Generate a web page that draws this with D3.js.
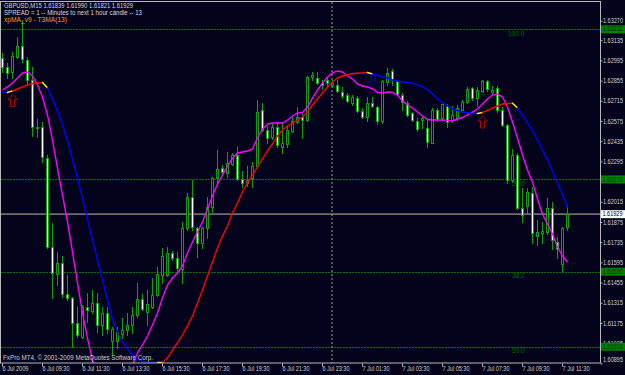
<!DOCTYPE html>
<html><head><meta charset="utf-8">
<script src="https://cdn.jsdelivr.net/npm/d3@7/dist/d3.min.js"></script>
<style>html,body{margin:0;padding:0;background:#03031b;overflow:hidden}</style>
</head><body><script>
const openP=[1.63012,1.62949,1.62915,1.63019,1.63095,1.62998,1.62859,1.62526,1.62533,1.62318,
1.61701,1.61514,1.61590,1.61375,1.61348,1.61174,1.61077,1.61285,1.61258,1.61313,
1.61160,1.61244,1.61050,1.61050,1.61098,1.61126,1.61160,1.61230,1.61341,1.61251,
1.61285,1.61369,1.61507,1.61507,1.61660,1.61625,1.61549,1.61833,1.62048,1.61833,
1.61729,1.61833,1.61979,1.62180,1.62249,1.62214,1.62277,1.62339,1.62173,1.62145,
1.62180,1.62263,1.62651,1.62513,1.62464,1.62533,1.62395,1.62416,1.62506,1.62568,
1.62603,1.62582,1.62880,1.62873,1.62838,1.62859,1.62825,1.62825,1.62776,1.62755,
1.62700,1.62734,1.62644,1.62603,1.62700,1.62672,1.62575,1.62845,1.62922,1.62852,
1.62755,1.62700,1.62631,1.62575,1.62582,1.62526,1.62422,1.62651,1.62596,1.62679,
1.62582,1.62596,1.62651,1.62707,1.62804,1.62734,1.62783,1.62852,1.62776,1.62804,
1.62651,1.62547,1.62166,1.62339,1.61972,1.61986,1.62076,1.61778,1.61798,1.61805,
1.61972,1.61736,1.61583,1.61839];
const highP=[1.63046,1.62977,1.63053,1.63157,1.63275,1.63019,1.62949,1.62589,1.62568,1.62339,
1.61868,1.61667,1.61639,1.61507,1.61355,1.61285,1.61299,1.61382,1.61403,1.61382,
1.61285,1.61285,1.61147,1.61147,1.61209,1.61244,1.61285,1.61452,1.61375,1.61403,
1.61486,1.61563,1.61694,1.61701,1.61674,1.61667,1.61875,1.62076,1.62166,1.61840,
1.61840,1.62048,1.62187,1.62374,1.62270,1.62360,1.62353,1.62395,1.62228,1.62263,
1.62291,1.62721,1.62700,1.62540,1.62561,1.62568,1.62561,1.62533,1.62603,1.62672,
1.62631,1.62887,1.62915,1.62915,1.62859,1.62873,1.62859,1.62859,1.62811,1.62769,
1.62755,1.62748,1.62665,1.62741,1.62741,1.62679,1.62859,1.62942,1.62936,1.62859,
1.62769,1.62714,1.62637,1.62596,1.62610,1.62582,1.62665,1.62665,1.62707,1.62693,
1.62679,1.62686,1.62721,1.62811,1.62811,1.62811,1.62859,1.62859,1.62818,1.62818,
1.62672,1.62554,1.62381,1.62353,1.62110,1.62110,1.62117,1.61889,1.61875,1.62041,
1.62013,1.61771,1.61840,1.61990];
const lowP=[1.62915,1.62873,1.62873,1.63012,1.62984,1.62832,1.62471,1.62464,1.62291,1.61694,
1.61348,1.61438,1.61355,1.61334,1.61008,1.61077,1.61070,1.61181,1.61244,1.61112,
1.61091,1.61105,1.60959,1.61001,1.61070,1.61091,1.61105,1.61216,1.61264,1.61160,
1.61278,1.61362,1.61452,1.61500,1.61611,1.61542,1.61452,1.61819,1.61819,1.61632,
1.61694,1.61764,1.61944,1.62145,1.62200,1.62187,1.62270,1.62166,1.62117,1.62124,
1.62117,1.62256,1.62506,1.62422,1.62450,1.62395,1.62353,1.62395,1.62499,1.62561,
1.62457,1.62575,1.62859,1.62832,1.62797,1.62825,1.62811,1.62776,1.62734,1.62707,
1.62686,1.62637,1.62596,1.62575,1.62672,1.62554,1.62561,1.62825,1.62825,1.62755,
1.62651,1.62610,1.62575,1.62506,1.62526,1.62395,1.62422,1.62575,1.62582,1.62533,
1.62568,1.62582,1.62637,1.62700,1.62721,1.62679,1.62776,1.62783,1.62762,1.62637,
1.62540,1.62145,1.62152,1.61965,1.61875,1.61937,1.61729,1.61715,1.61729,1.61791,
1.61687,1.61625,1.61535,1.61821];
const closeP=[1.62949,1.62908,1.63026,1.63095,1.63005,1.62859,1.62533,1.62533,1.62325,1.61701,
1.61521,1.61590,1.61375,1.61348,1.61174,1.61091,1.61285,1.61264,1.61313,1.61160,
1.61244,1.61133,1.61133,1.61112,1.61126,1.61160,1.61230,1.61341,1.61271,1.61306,
1.61369,1.61514,1.61639,1.61660,1.61625,1.61556,1.61833,1.62048,1.61840,1.61729,
1.61833,1.61979,1.62180,1.62242,1.62221,1.62284,1.62339,1.62173,1.62145,1.62166,
1.62263,1.62637,1.62513,1.62457,1.62533,1.62409,1.62422,1.62513,1.62575,1.62603,
1.62582,1.62880,1.62894,1.62838,1.62825,1.62838,1.62838,1.62783,1.62748,1.62714,
1.62741,1.62644,1.62603,1.62700,1.62679,1.62575,1.62852,1.62908,1.62859,1.62762,
1.62707,1.62617,1.62582,1.62520,1.62596,1.62429,1.62651,1.62589,1.62693,1.62568,
1.62617,1.62665,1.62707,1.62797,1.62734,1.62790,1.62852,1.62797,1.62790,1.62651,
1.62547,1.62166,1.62339,1.61972,1.61923,1.62083,1.61798,1.61805,1.61812,1.61972,
1.61750,1.61687,1.61833,1.61929];
const fastMA=[1.62790,1.62811,1.62838,1.62873,1.62908,1.62915,1.62887,1.62825,1.62741,1.62617,
1.62443,1.62249,1.62062,1.61875,1.61667,1.61452,1.61244,1.61070,1.60918,1.60814,
1.60744,1.60710,1.60696,1.60710,1.60744,1.60814,1.60883,1.60966,1.61022,1.61084,
1.61160,1.61244,1.61348,1.61438,1.61486,1.61521,1.61570,1.61660,1.61736,1.61805,
1.61875,1.61965,1.62055,1.62138,1.62200,1.62263,1.62318,1.62353,1.62360,1.62367,
1.62381,1.62457,1.62520,1.62554,1.62561,1.62561,1.62561,1.62582,1.62610,1.62631,
1.62634,1.62672,1.62734,1.62790,1.62838,1.62880,1.62908,1.62922,1.62915,1.62887,
1.62866,1.62832,1.62818,1.62811,1.62797,1.62773,1.62769,1.62776,1.62773,1.62755,
1.62714,1.62686,1.62665,1.62637,1.62610,1.62585,1.62582,1.62582,1.62582,1.62579,
1.62575,1.62589,1.62599,1.62617,1.62637,1.62658,1.62693,1.62728,1.62755,1.62762,
1.62741,1.62672,1.62568,1.62457,1.62339,1.62235,1.62152,1.62034,1.61930,1.61861,
1.61791,1.61701,1.61639,1.61597];
const t3MA=[1.62776,1.62773,1.62783,1.62797,1.62811,1.62825,1.62835,1.62838,1.62842,1.62804,
1.62728,1.62644,1.62547,1.62436,1.62312,1.62180,1.62041,1.61896,1.61750,1.61611,
1.61473,1.61334,1.61202,1.61112,1.61043,1.60994,1.60952,1.60925,1.60907,1.60900,
1.60897,1.60895,1.60900,1.60932,1.60987,1.61036,1.61091,1.61154,1.61223,1.61313,
1.61403,1.61500,1.61597,1.61694,1.61778,1.61847,1.61937,1.62006,1.62083,1.62145,
1.62200,1.62256,1.62312,1.62367,1.62416,1.62471,1.62513,1.62540,1.62561,1.62582,
1.62603,1.62637,1.62686,1.62728,1.62769,1.62811,1.62845,1.62873,1.62887,1.62897,
1.62904,1.62906,1.62909,1.62911,1.62901,1.62891,1.62880,1.62873,1.62859,1.62852,
1.62845,1.62842,1.62838,1.62825,1.62811,1.62790,1.62762,1.62728,1.62700,1.62679,
1.62658,1.62648,1.62637,1.62632,1.62628,1.62627,1.62634,1.62648,1.62665,1.62679,
1.62693,1.62696,1.62698,1.62665,1.62617,1.62561,1.62506,1.62443,1.62374,1.62305,
1.62228,1.62145,1.62062,1.61979];
const xTickIdx=[0,8,16,24,32,40,48,56,64,72,80,88,96,104,112];
const xLabels=["6 Jul 2009","6 Jul 09:30","6 Jul 11:30","6 Jul 13:30","6 Jul 15:30","6 Jul 17:30","6 Jul 19:30","6 Jul 21:30","6 Jul 23:30","7 Jul 01:30","7 Jul 03:30","7 Jul 05:30","7 Jul 07:30","7 Jul 09:30","7 Jul 11:30"];
const priceTicks=[1.63270,1.63135,1.62995,1.62855,1.62715,1.62575,1.62435,1.62295,1.62015,1.61875,1.61735,1.61595,1.61455,1.61315,1.61175,1.61035,1.60895];
const fibPrices=[1.63211,1.62170,1.61530,1.61010];
const fibNames=["100.0","\u00b7 23.6","\u00b7 38.2","\u00b7 50.0"];
const bidPrice=1.61929;
const daySepIdx=66;
const headerLines=["GBPUSD,M15  1.61839 1.61990 1.61821 1.61929","SPREAD = 1  --  Minutes to next 1 hour candle  --  13","xpMA_v9 - T3MA(13)"];
const copyright="FxPro MT4, \u00a9 2001-2009 MetaQuotes Software Corp.";

const W=625,H=375,BG="#03031b",PR=600,PB=363;
const GREEN="#00a800",FIB="#007400",FONT="'Liberation Sans', Arial, sans-serif";
const svg=d3.select("body").append("svg").attr("width",W).attr("height",H).style("display","block");
svg.append("rect").attr("width",W).attr("height",H).attr("fill",BG);
const x=d3.scaleLinear().domain([0,113]).range([2.5,567.5]);
const y=d3.scaleLinear().domain([1.63414,1.60897]).range([0,PB]);
const ry=p=>Math.round(y(p))+0.5;

svg.append("clipPath").attr("id","plot").append("rect").attr("x",1).attr("y",2).attr("width",PR-1).attr("height",PB-2);
const plot=svg.append("g").attr("clip-path","url(#plot)");

plot.selectAll(".fib").data(fibPrices).join("line").attr("x1",1).attr("x2",PR)
  .attr("y1",d=>ry(d)).attr("y2",d=>ry(d)).attr("stroke",FIB).attr("stroke-width",1).attr("stroke-dasharray","2,1");
plot.selectAll(".fibt").data(fibPrices).join("text").attr("x",508).attr("y",d=>y(d)+6.5)
  .attr("fill","#006a00").attr("font-family",FONT).attr("font-size",6.5).text((d,i)=>fibNames[i]);
plot.append("line").attr("x1",1).attr("x2",PR).attr("y1",y(bidPrice)).attr("y2",y(bidPrice))
  .attr("stroke","#6e6e6e").attr("stroke-width",1.6);
plot.append("line").attr("x1",x(daySepIdx)-0.5).attr("x2",x(daySepIdx)-0.5).attr("y1",2).attr("y2",PB)
  .attr("stroke","#a0a0a0").attr("stroke-width",1).attr("stroke-dasharray","2,2");

const idx=d3.range(openP.length);
const cg=plot.append("g");
idx.forEach(i=>{
  const xc=x(i);
  cg.append("line").attr("x1",xc).attr("x2",xc).attr("y1",Math.round(y(highP[i]))).attr("y2",Math.round(y(lowP[i]))+1)
    .attr("stroke",GREEN).attr("stroke-width",1);
  const top=Math.round(y(Math.max(openP[i],closeP[i]))),bot=Math.round(y(Math.min(openP[i],closeP[i])));
  const bull=closeP[i]>=openP[i];
  cg.append("rect").attr("x",xc-1).attr("y",top+0.5).attr("width",2).attr("height",Math.max(0,bot-top))
    .attr("fill",bull?BG:"#ffffff").attr("stroke",GREEN).attr("stroke-width",1);
});

plot.append("path").datum(fastMA).attr("fill","none").attr("stroke","#ff00ff").attr("stroke-width",1.4)
  .attr("d",d3.line().x((d,i)=>x(i)).y(d=>y(d)));

let prevDir=null;const turns=[];
for(let i=1;i<t3MA.length;i++){
  const dir=t3MA[i]>t3MA[i-1]?1:-1;
  const turn=prevDir!==null&&dir!==prevDir;
  const col=turn?"#ffff00":(dir>0?"#ff0000":"#0000ff");
  plot.append("line").attr("x1",x(i-1)).attr("x2",x(i)).attr("y1",Math.min(y(t3MA[i-1]),PB-0.5)).attr("y2",Math.min(y(t3MA[i]),PB-0.5))
    .attr("stroke",col).attr("stroke-width",1.4).attr("stroke-linecap","round");
  if(turn)turns.push({i,dir});
  prevDir=dir;
}
turns.forEach(t=>{
  const cx=x(t.i),ty=y(t3MA[t.i]);
  if(t.dir>0){
    const top=ty+3.5;
    plot.append("path").attr("d",`M${cx},${top}L${cx+4.5},${top+5}L${cx+2},${top+5}L${cx+2},${top+12}L${cx-2},${top+12}L${cx-2},${top+5}L${cx-4.5},${top+5}Z`)
      .attr("fill","none").attr("stroke","#b00000").attr("stroke-width",1);
  }else{
    const top=ty+1.5;
    plot.append("path").attr("d",`M${cx-2},${top}L${cx+2},${top}L${cx+2},${top+6}L${cx+4.5},${top+6}L${cx},${top+11}L${cx-4.5},${top+6}L${cx-2},${top+6}Z`)
      .attr("fill","none").attr("stroke","#0000ff").attr("stroke-width",1).attr("stroke-dasharray","1,1");
  }
});

svg.append("rect").attr("x",0.5).attr("y",1.5).attr("width",PR).attr("height",PB-1.5)
  .attr("fill","none").attr("stroke","#b8b8b8").attr("stroke-width",1);

const hy=[8,15,22],hl=[129,138,63],hc=["#d8d8d8","#d8d8d8","#f0a000"];
headerLines.forEach((s,i)=>{
  svg.append("text").attr("x",4).attr("y",hy[i]).attr("fill",hc[i]).attr("font-family",FONT).attr("font-size",6.8)
    .attr("textLength",hl[i]).attr("lengthAdjust","spacingAndGlyphs").text(s);
});
svg.append("text").attr("x",3).attr("y",360).attr("fill","#d0d0d0").attr("font-family",FONT).attr("font-size",6.8)
  .attr("textLength",150).attr("lengthAdjust","spacingAndGlyphs").text(copyright);

const xa=svg.append("g").attr("transform",`translate(0,${PB+0.5})`)
  .call(d3.axisBottom(x).tickValues(xTickIdx).tickSize(3).tickPadding(0).tickFormat((d,i)=>xLabels[i]));
xa.select(".domain").remove();
xa.selectAll("line").attr("stroke","#b8b8b8").attr("transform","translate(-0.5,0)");
xa.selectAll("text").attr("text-anchor","start").attr("x",-0.5).attr("fill","#d0d0d0")
  .attr("font-family",FONT).attr("font-size",6.8).attr("textLength",(d,i)=>i===0?26:27).attr("lengthAdjust","spacingAndGlyphs");

const ya=svg.append("g").attr("transform",`translate(${PR+0.5},0)`)
  .call(d3.axisRight(y).tickValues(priceTicks).tickSize(2).tickPadding(0.5).tickFormat(d3.format(".5f")));
ya.select(".domain").remove();
ya.selectAll("line").attr("stroke","#b8b8b8");
ya.selectAll("text").attr("fill","#d0d0d0").attr("font-family",FONT).attr("font-size",6.8)
  .attr("textLength",20).attr("lengthAdjust","spacingAndGlyphs")
  .attr("y",d=>Math.min(y(d),359.5)-y(d));

const boxes=fibPrices.map(p=>({p,bg:"#008000",fg:"#002800"})).concat([{p:bidPrice,bg:"#ffffff",fg:"#000000"}]);
boxes.forEach(b=>{
  const cy=y(b.p);
  svg.append("rect").attr("x",601).attr("y",cy-4).attr("width",24).attr("height",8).attr("fill",b.bg);
  svg.append("text").attr("x",602.5).attr("y",cy).attr("dy","0.32em").attr("fill",b.fg).attr("font-family",FONT)
    .attr("font-size",6.8).attr("textLength",20).attr("lengthAdjust","spacingAndGlyphs").text(d3.format(".5f")(b.p));
});
</script></body></html>
